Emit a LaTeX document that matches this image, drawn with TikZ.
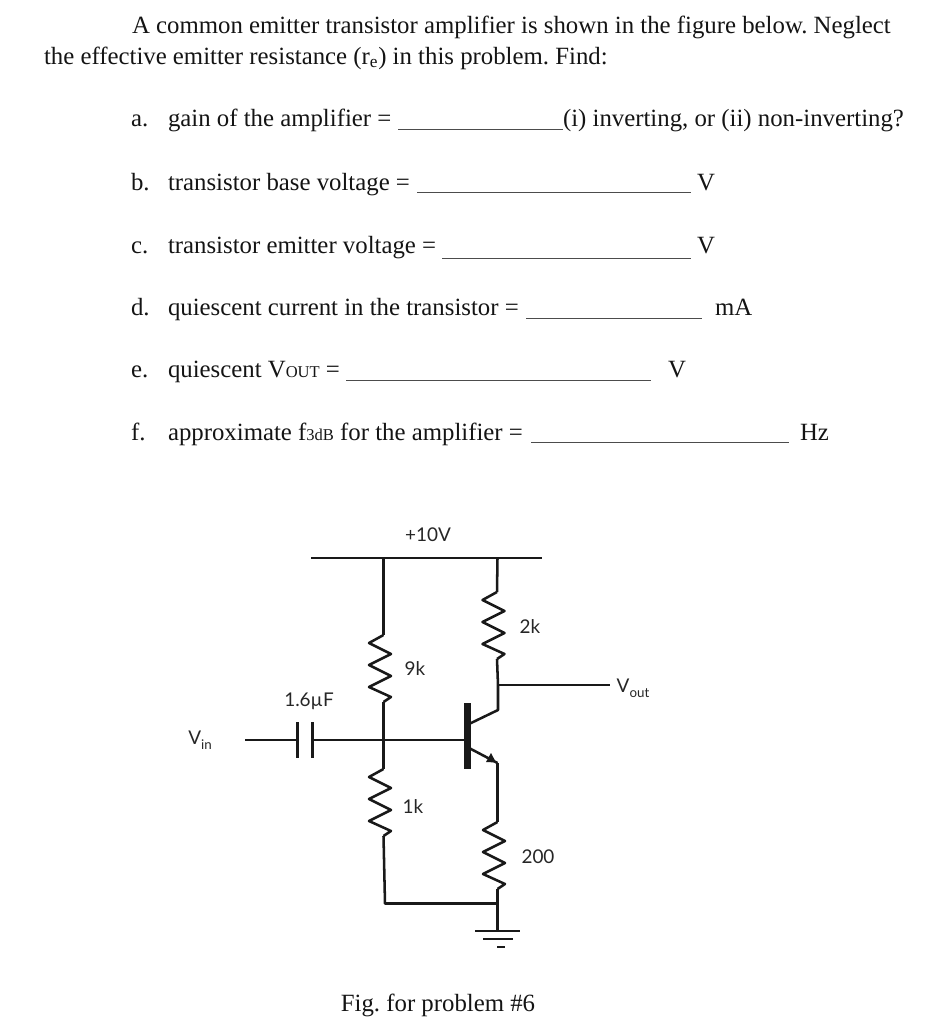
\documentclass[tikz,border=0pt]{standalone}
\usepackage{fontspec}
\setmainfont{Liberation Serif}
\newfontfamily\cirfont{Lato}
\usetikzlibrary{arrows.meta}
\tikzset{
  txt/.style={anchor=base west,inner sep=0pt,outer sep=0pt,font=\fontsize{18.6}{18.6}\selectfont\frenchspacing,text=black!92},
  captxt/.style={anchor=base,inner sep=0pt,outer sep=0pt,font=\fontsize{18.6}{18.6}\selectfont\frenchspacing,text=black!92},
  lab/.style={anchor=center,inner sep=0pt,outer sep=0pt,font=\cirfont\fontsize{14.2}{15}\selectfont,text=black!85},
  blank/.style={line width=0.7pt,black!70},
  wire/.style={line width=1.9pt,black!90,line join=round},
  bar/.style={line width=5.2pt,black!90},
  plate/.style={line width=1.9pt,black!90},
  pics/zig/.style={code={
    \draw[wire] (0,0) -- (-14.5,8) -- (7.5,19) -- (-14.5,30) -- (7.5,41) -- (-14.5,52) -- (7.5,62) -- (0,67);
  }}
}
\begin{document}
\begin{tikzpicture}[x=0.75pt,y=-0.75pt]
\useasboundingbox (0,0) rectangle (931,1024);
% text
\node[txt] (l1) at (132,33.5) {A common emitter transistor amplifier is shown in the figure below. Neglect};
\node[txt] (l2) at (44,64.5) {the effective emitter resistance (r\textsubscript{e}) in this problem. Find:};
\node[txt] (a) at (131,127) {a.};
\node[txt] (at) at (168,127) {gain of the amplifier =};
\node[txt] (ae) at (563,127) {(i) inverting, or (ii) non-inverting?};
\node[txt] (b) at (131,190) {b.};
\node[txt] (bt) at (168,190) {transistor base voltage =};
\node[txt] (bu) at (697,190) {V};
\node[txt] (c) at (131,253) {c.};
\node[txt] (ct) at (168,253) {transistor emitter voltage =};
\node[txt] (cu) at (697,253) {V};
\node[txt] (d) at (131,315) {d.};
\node[txt] (dt) at (168,315) {quiescent current in the transistor =};
\node[txt] (du) at (715,315) {mA};
\node[txt] (e) at (131,377) {e.};
\node[txt] (et) at (168,377) {quiescent V{\fontsize{12.4}{12.4}\selectfont OUT} =};
\node[txt] (eu) at (668,377) {V};
\node[txt] (f) at (131,440) {f.};
\node[txt] (ft) at (168,440) {approximate f{\fontsize{12.4}{12.4}\selectfont 3dB} for the amplifier =};
\node[txt] (fu) at (800,440) {Hz};
\node[captxt] (figcap) at (438,1011) {Fig. for problem \#6};
% blanks
\draw[blank] (398,129.5) -- (563,129.5);
\draw[blank] (417,192.5) -- (691,192.5);
\draw[blank] (442,258.5) -- (691,258.5);
\draw[blank] (526,318.5) -- (702,318.5);
\draw[blank] (346,380.5) -- (651,380.5);
\draw[blank] (531,442.5) -- (789,442.5);
% circuit coordinates
\coordinate (busL) at (311,558);
\coordinate (busR) at (542,558);
\coordinate (r1top) at (383.5,558);
\coordinate (r1a) at (383.5,635);
\coordinate (r1b) at (383.5,702);
\coordinate (bj) at (383.5,740);
\coordinate (r2a) at (383.5,769);
\coordinate (r2b) at (383.5,836);
\coordinate (bl) at (385,903.5);
\coordinate (gj) at (497.5,903.5);
\coordinate (r3top) at (497.5,558);
\coordinate (r3a) at (497,592);
\coordinate (r3b) at (497,659);
\coordinate (outj) at (498,685);
\coordinate (outr) at (610,685);
\coordinate (colb) at (498,710);
\coordinate (col) at (470,723.5);
\coordinate (em) at (470,748.5);
\coordinate (emb) at (497.5,763);
\coordinate (r4a) at (497.5,822);
\coordinate (r4b) at (497.5,889);
\coordinate (gnd) at (497.5,931);
\coordinate (vinw) at (245,740);
\coordinate (capL) at (297.5,740);
\coordinate (capR) at (312.5,740);
\coordinate (baseB) at (465,740);
% wires
\draw[wire,line width=2.2pt] (busL) -- (busR);
\draw[wire] (r1top) -- (r1a);
\pic at (r1a) {zig};
\draw[wire] (r1b) -- (bj) -- (r2a);
\pic at (r2a) {zig};
\draw[wire] (r2b) -- (bl) -- (gj);
\draw[wire] (r3top) -- (r3a);
\pic at (r3a) {zig};
\draw[wire] (r3b) -- (outj) -- (colb) -- (col);
\draw[wire] (outj) -- (outr);
\draw[wire] (vinw) -- (capL);
\draw[wire] (capR) -- (baseB);
\draw[plate] (297.5,722) -- (297.5,758);
\draw[plate] (312.5,722) -- (312.5,758);
\draw[bar] (467.5,703) -- (467.5,769);
\draw[wire] (em) -- (emb);
\fill[black!90] (496,762.5) -- (486,762) -- (491,753) -- cycle;
\draw[wire] (emb) -- (r4a);
\pic at (r4a) {zig};
\draw[wire] (r4b) -- (gj) -- (gnd);
\draw[plate] (475,931) -- (520,931);
\draw[plate] (483,939) -- (513,939);
\draw[plate] (497,947) -- (505,947);
% labels
\node[lab] (v10) at (428,535) {+10V};
\node[lab] (k2) at (530,627) {2k};
\node[lab] (k9) at (415,669) {9k};
\node[lab] (uf) at (309,701) {1.6µF};
\node[lab] (k1) at (413,807) {1k};
\node[lab] (r200) at (538,857) {200};
\node[lab] (vin) at (200,740) {V\raisebox{-0.5ex}{\fontsize{10}{10}\selectfont in}};
\node[lab] (vout) at (633,688) {V\raisebox{-0.5ex}{\fontsize{10}{10}\selectfont out}};
\end{tikzpicture}
\end{document}
